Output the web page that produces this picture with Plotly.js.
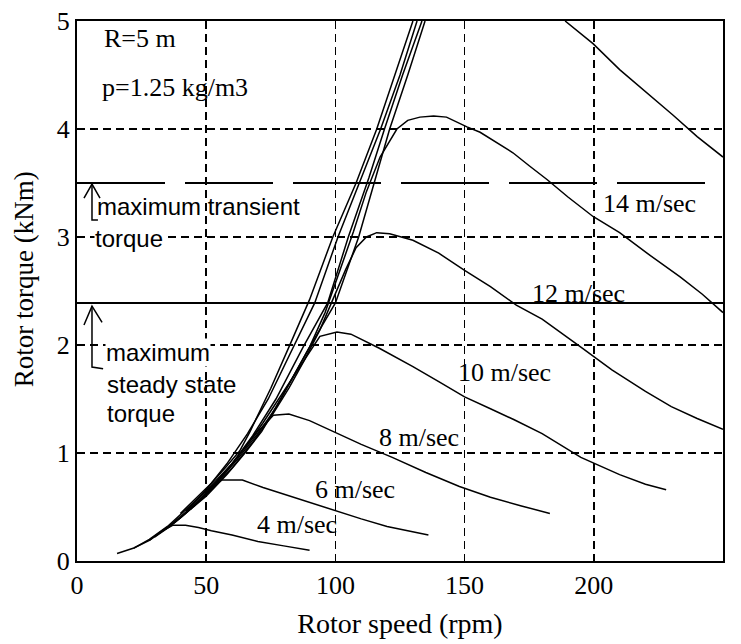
<!DOCTYPE html>
<html>
<head>
<meta charset="utf-8">
<script src="https://cdn.plot.ly/plotly-3.0.1.min.js"></script>
<style>
  html, body { margin: 0; padding: 0; background: #fff; }
  #chart { width: 741px; height: 644px; }
</style>
</head>
<body>
<div id="chart"></div>
<script>
// ---- Data (rotor speed in rpm, torque in kNm) ----
const speed4  = [15.5, 22, 28, 33, 37, 42, 47, 52, 60, 70, 80, 90];
const torque4 = [0.07, 0.12, 0.19, 0.28, 0.33, 0.33, 0.31, 0.28, 0.24, 0.18, 0.14, 0.10];

const speed6  = [22, 28, 35, 41, 47, 52, 56, 64, 72, 81, 90, 99, 110, 120, 128, 136];
const torque6 = [0.12, 0.20, 0.32, 0.45, 0.58, 0.69, 0.75, 0.75, 0.68, 0.61, 0.54, 0.47, 0.39, 0.32, 0.28, 0.24];

const speed8  = [28, 35, 42, 48, 54, 60, 65, 70, 76, 82, 90, 100, 110, 122, 135, 148, 160, 172, 183];
const torque8 = [0.19, 0.31, 0.45, 0.60, 0.75, 0.90, 1.05, 1.20, 1.35, 1.36, 1.30, 1.19, 1.08, 0.96, 0.82, 0.69, 0.59, 0.51, 0.44];

const speed10  = [30, 36, 42, 50, 58, 66, 72, 78, 84, 89, 94, 100.6, 106, 117, 130, 140, 150, 160, 169, 180, 195, 210, 220, 228];
const torque10 = [0.22, 0.32, 0.44, 0.62, 0.84, 1.08, 1.28, 1.50, 1.72, 1.90, 2.08, 2.12, 2.10, 1.97, 1.80, 1.66, 1.52, 1.41, 1.31, 1.18, 0.96, 0.80, 0.71, 0.66];

const speed12  = [32, 38, 45, 52, 60, 68, 75, 82, 88, 94, 99, 104, 108, 112, 116, 121, 130, 140, 150, 160, 170, 180, 195, 207, 220, 230, 240, 250];
const torque12 = [0.26, 0.36, 0.50, 0.66, 0.86, 1.10, 1.33, 1.60, 1.86, 2.14, 2.42, 2.70, 2.90, 3.00, 3.04, 3.03, 2.97, 2.85, 2.69, 2.54, 2.37, 2.24, 1.98, 1.77, 1.57, 1.43, 1.32, 1.22];

const speed14  = [33, 40, 47, 54, 62, 70, 77, 84, 90, 96, 102, 107, 112, 117.3, 123.8, 128, 132.7, 138, 143, 150.9, 156, 162, 168.7, 175, 182, 190, 199.7, 210, 220.6, 233.4, 242, 250];
const torque14 = [0.28, 0.40, 0.55, 0.72, 0.94, 1.18, 1.42, 1.72, 1.98, 2.30, 2.70, 3.05, 3.42, 3.74, 4.00, 4.08, 4.11, 4.12, 4.11, 4.02, 3.97, 3.88, 3.78, 3.66, 3.53, 3.37, 3.19, 3.04, 2.85, 2.63, 2.47, 2.30];

// 16 m/s: rising branch leaves the top of the frame, falling branch re-enters it
const speed16  = [40, 46, 52, 58, 63, 67, 75, 82, 90, 99, 108, 116, 123, 130, null, 188.9, 199.7, 210, 218, 230.6, 240, 250];
const torque16 = [0.44, 0.58, 0.72, 0.88, 1.02, 1.20, 1.60, 1.98, 2.42, 3.00, 3.50, 4.00, 4.50, 5.00, null, 5.00, 4.79, 4.55, 4.39, 4.13, 3.93, 3.74];

// further high-wind rising branches (off the top of the frame)
const speedHighA  = [42, 50, 58, 66, 74, 83.6, 92, 101, 110, 117.5, 125, 131.6];
const torqueHighA = [0.46, 0.66, 0.90, 1.18, 1.50, 1.98, 2.39, 3.00, 3.55, 4.00, 4.50, 5.00];
const speedHighB  = [44, 52, 60, 68, 77, 87.5, 97, 105, 113, 119, 126, 133.5];
const torqueHighB = [0.48, 0.68, 0.90, 1.16, 1.50, 1.98, 2.39, 3.00, 3.55, 4.00, 4.50, 5.00];
const speedHighC  = [45, 50, 58, 65, 71.5, 80, 90, 100, 109, 115, 121, 128, 134.7];
const torqueHighC = [0.50, 0.60, 0.80, 1.00, 1.20, 1.55, 1.98, 2.39, 3.00, 3.50, 4.00, 4.50, 5.00];

const transientTorque = 3.5;   // maximum transient torque (kNm)
const steadyTorque = 2.39;     // maximum steady state torque (kNm)

const xTicks = [0, 50, 100, 150, 200, 250];
const yTicks = [0, 1, 2, 3, 4, 5];
const windLabels = ['4 m/sec', '6 m/sec', '8 m/sec', '10 m/sec', '12 m/sec', '14 m/sec'];

// ---- Build traces ----
const series = [
  [speed4, torque4], [speed6, torque6], [speed8, torque8], [speed10, torque10],
  [speed12, torque12], [speed14, torque14], [speed16, torque16],
  [speedHighA, torqueHighA], [speedHighB, torqueHighB], [speedHighC, torqueHighC]
];
const traces = series.map(([x, y]) => ({
  x: x, y: y, type: 'scatter', mode: 'lines',
  line: { color: '#000', width: 1.5 },
  connectgaps: false, showlegend: false, hoverinfo: 'skip'
}));

const serif = 'Liberation Serif';
const sans = 'Liberation Sans';

// label positions (layout)
const labelPos = [[85.1, 0.34], [107.6, 0.66], [132.4, 1.14], [165.6, 1.75], [193.9, 2.48], [221.7, 3.31]];
const annotations = windLabels.map((t, i) => ({
  x: labelPos[i][0], y: labelPos[i][1], xref: 'x', yref: 'y', text: t,
  showarrow: false, xanchor: 'center', yanchor: 'middle',
  font: { family: serif, size: 26, color: '#000' }
}));
annotations.push(
  { x: 9.7, y: 4.84, xref: 'x', yref: 'y', text: 'R=5 m', showarrow: false, xanchor: 'left', yanchor: 'middle', font: { family: serif, size: 26, color: '#000' } },
  { x: 8.9, y: 4.38, xref: 'x', yref: 'y', text: 'p=1.25 kg/m3', showarrow: false, xanchor: 'left', yanchor: 'middle', font: { family: serif, size: 26, color: '#000' } },
  { x: 7.0, y: 3.28, xref: 'x', yref: 'y', text: 'maximum transient', showarrow: false, xanchor: 'left', yanchor: 'middle', font: { family: sans, size: 24, color: '#000' } },
  { x: 6.6, y: 2.99, xref: 'x', yref: 'y', text: 'torque', showarrow: false, xanchor: 'left', yanchor: 'middle', bgcolor: '#fff', borderpad: 0, font: { family: sans, size: 24, color: '#000' } },
  { x: 10.8, y: 1.93, xref: 'x', yref: 'y', text: 'maximum', showarrow: false, xanchor: 'left', yanchor: 'middle', bgcolor: '#fff', borderpad: 0, font: { family: sans, size: 24, color: '#000' } },
  { x: 10.8, y: 1.63, xref: 'x', yref: 'y', text: 'steady state', showarrow: false, xanchor: 'left', yanchor: 'middle', font: { family: sans, size: 24, color: '#000' } },
  { x: 10.8, y: 1.37, xref: 'x', yref: 'y', text: 'torque', showarrow: false, xanchor: 'left', yanchor: 'middle', font: { family: sans, size: 24, color: '#000' } },
  // y-axis title placed as in the reference (slightly above the plot centre)
  { x: -0.082, y: 0.522, xref: 'paper', yref: 'paper', text: 'Rotor torque (kNm)', textangle: -90, showarrow: false, xanchor: 'center', yanchor: 'middle', font: { family: serif, size: 27, color: '#000' } }
);

const blk = { color: '#000', width: 1.5 };
const shapes = [
  { type: 'line', xref: 'paper', yref: 'y', x0: 0, x1: 1, y0: transientTorque, y1: transientTorque, line: { color: '#000', width: 2, dash: '88px,20px' } },
  { type: 'line', xref: 'paper', yref: 'y', x0: 0, x1: 1, y0: steadyTorque, y1: steadyTorque, line: { color: '#000', width: 2 } },
  // transient arrow with bracket
  { type: 'path', xref: 'x', yref: 'y', path: 'M 8.1,3.157 L 5.8,3.157 L 5.8,3.49', line: blk },
  { type: 'path', xref: 'x', yref: 'y', path: 'M 2.7,3.36 L 5.8,3.49 L 8.9,3.36', line: blk },
  // steady state arrow with bracket
  { type: 'path', xref: 'x', yref: 'y', path: 'M 10.1,1.78 L 5.8,1.796 L 5.8,2.36', line: blk },
  { type: 'path', xref: 'x', yref: 'y', path: 'M 2.7,2.185 L 5.8,2.36 L 9.7,2.21', line: blk }
];

const axisCommon = {
  showline: true, linecolor: '#000', linewidth: 2, mirror: true,
  ticks: 'inside', ticklen: 6, tickwidth: 1.5, tickcolor: '#000',
  showgrid: true, gridcolor: '#000', gridwidth: 1.5, griddash: '8px,5px',
  zeroline: false, fixedrange: true,
  tickfont: { family: serif, size: 26, color: '#000' }
};

const layout = {
  width: 741, height: 644,
  margin: { l: 77, r: 18, t: 21, b: 83 },
  font: { family: serif, color: '#000' },
  paper_bgcolor: '#fff', plot_bgcolor: '#fff',
  xaxis: Object.assign({}, axisCommon, {
    range: [0, 250], tickvals: xTicks, ticktext: xTicks.map(String),
    title: { text: 'Rotor speed (rpm)', font: { family: serif, size: 28, color: '#000' }, standoff: 14 }
  }),
  yaxis: Object.assign({}, axisCommon, {
    range: [0, 5], tickvals: yTicks, ticktext: yTicks.map(String)
  }),
  annotations: annotations,
  shapes: shapes
};

Plotly.newPlot('chart', traces, layout, { staticPlot: true, displayModeBar: false });
</script>
</body>
</html>
